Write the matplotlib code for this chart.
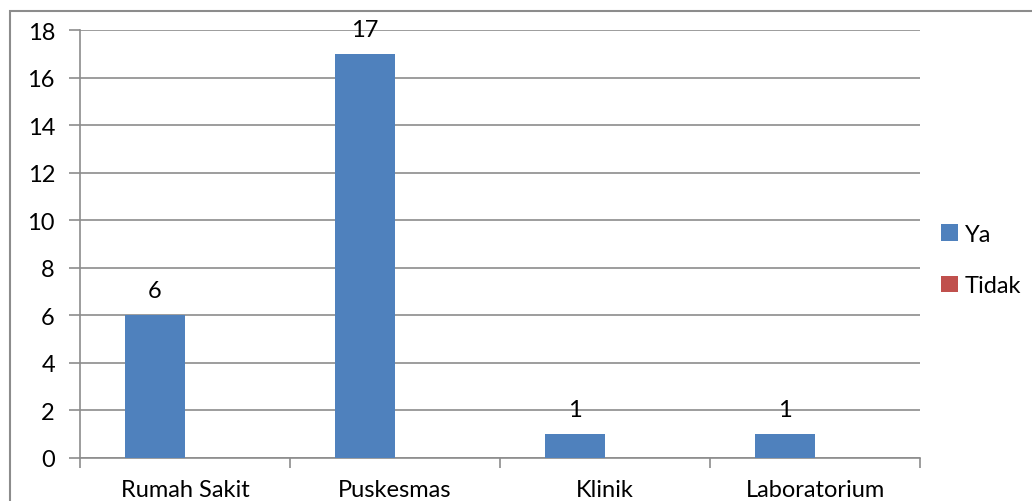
import matplotlib
matplotlib.use("Agg")
import matplotlib.pyplot as plt
from matplotlib.patches import Rectangle
import numpy as np

categories = ["Rumah Sakit", "Puskesmas", "Klinik", "Laboratorium"]
ya = [6, 17, 1, 1]
tidak = [0, 0, 0, 0]
yticks = list(range(0, 19, 2))

plt.rcParams['font.family'] = ['Lato', 'DejaVu Sans']
FS = 17

W, H = 1032, 502
fig = plt.figure(figsize=(W/100, H/100), dpi=100)
ax = fig.add_axes([80/W, 1-459/H, 840/W, 428/H])

x = np.arange(len(categories))
bw = 0.2857
blue = '#4F81BD'
red = '#C0504D'
b1 = ax.bar(x - bw/2, ya, bw, color=blue, label='Ya', zorder=3)
b2 = ax.bar(x + bw/2, tidak, bw, color=red, label='Tidak', zorder=3)

for xi, v in zip(x, ya):
    ax.annotate(str(v), (xi - bw/2, v), xytext=(0, 10), textcoords='offset points',
                ha='center', va='bottom', fontsize=FS, color='black', zorder=4)

ax.set_xlim(-0.5, 3.5)
ax.set_ylim(0, 18)
ax.set_yticks(yticks)
ax.set_yticklabels([str(t) for t in yticks], fontsize=FS)
ax.yaxis.grid(True, color='#8c8c8c', linewidth=1.2, zorder=0)
ax.set_axisbelow(True)

ax.set_xticks(x)
ax.set_xticklabels(categories, fontsize=FS)
ax.tick_params(axis='x', length=0, pad=15)
ax.set_xticks(np.arange(-0.5, 4.0, 1.0), minor=True)
ax.tick_params(axis='x', which='minor', length=7, color='#8c8c8c', width=1.2, direction='out')
ax.tick_params(axis='y', length=8, color='#8c8c8c', width=1.2, pad=10)

for s in ['top', 'right']:
    ax.spines[s].set_visible(False)
for s in ['left', 'bottom']:
    ax.spines[s].set_color('#8c8c8c')
    ax.spines[s].set_linewidth(1.2)

leg = fig.legend(handles=[b1, b2], labels=['Ya', 'Tidak'], loc='center left',
                 bbox_to_anchor=(920/W, 1-261/H), frameon=False, fontsize=FS,
                 handlelength=0.7, handleheight=0.7, handletextpad=0.3, labelspacing=1.3)

fig.patches.append(Rectangle((10/W, -0.1), 1.2, 1.1 - 12/H, transform=fig.transFigure,
                             fill=False, edgecolor='#8c8c8c', linewidth=1.5))

fig.savefig('out.png', dpi=100)
